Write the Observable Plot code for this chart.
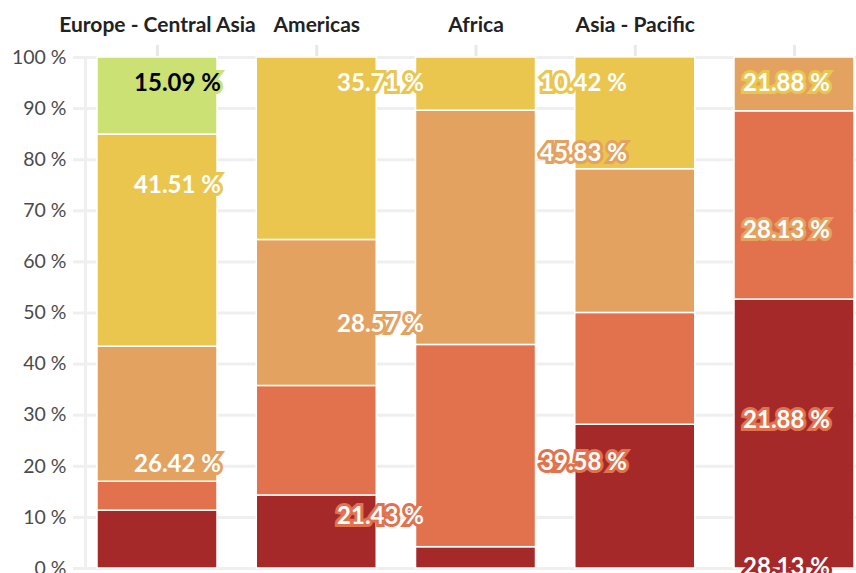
<!DOCTYPE html>
<html>
<head>
<meta charset="utf-8">
<script src="https://cdn.jsdelivr.net/npm/d3@7"></script>
<script src="https://cdn.jsdelivr.net/npm/@observablehq/plot@0.6"></script>
<style>
  html, body { margin: 0; padding: 0; background: white; overflow: hidden; }
  #wrap { position: relative; width: 856px; height: 600px; }
  #wrap svg { max-width: none !important; }
  #labels { position: absolute; left: 0; top: 0; pointer-events: none; }
</style>
</head>
<body>
<div id="wrap"><div id="bars"></div><div id="labels"></div></div>
<script>
// Categories (regions) along x
const regions = ["Europe - Central Asia", "Americas", "Africa", "Asia - Pacific", ""];
// Stack levels from bottom to top
const levels = ["Level 1", "Level 2", "Level 3", "Level 4", "Level 5"];
// Percent share of each level per region
const level1 = [11.32, 14.29, 4.17, 28.13, 52.63];
const level2 = [5.66, 21.43, 39.58, 21.88, 36.84];
const level3 = [26.42, 28.57, 45.83, 28.13, 10.53];
const level4 = [41.51, 35.71, 10.42, 21.88, 0];
const level5 = [15.09, 0, 0, 0, 0];
// y tick values
const yTicks = [0, 10, 20, 30, 40, 50, 60, 70, 80, 90, 100];

const colors = ["#a6292a", "#e2724e", "#e3a25f", "#ebc64e", "#cbe174"];
const series = [level1, level2, level3, level4, level5];

const rows = [];
series.forEach((vals, i) => {
  vals.forEach((v, j) => {
    if (v > 0) rows.push({region: regions[j], level: levels[i], value: v});
  });
});

const bars = Plot.plot({
  width: 856,
  height: 600,
  marginTop: 57,
  marginBottom: 32,
  marginLeft: 85,
  marginRight: 0,
  style: {fontFamily: "Lato, 'Open Sans', sans-serif", background: "white", overflow: "visible"},
  x: {domain: regions, paddingInner: 0.2465, paddingOuter: 0.044, align: 0.857, round: false, label: null},
  y: {domain: [0, 100], label: null},
  color: {domain: levels, range: colors},
  marks: [
    Plot.gridY(yTicks, {stroke: "#efefef", strokeOpacity: 1, strokeWidth: 3}),
    Plot.frame({anchor: "left", stroke: "#efefef", strokeOpacity: 1, strokeWidth: 3}),
    Plot.axisY(yTicks, {
      tickFormat: d => d + " %", tickSize: 12, tickPadding: 7,
      stroke: "#efefef", strokeWidth: 3, fill: "#4a4a4a", fontSize: 19.5, label: null
    }),
    Plot.axisX({
      anchor: "top", tickSize: 13, tickPadding: 13,
      stroke: "#e8e8e8", strokeWidth: 3, fill: "#222", fontSize: 21, fontWeight: "bold", label: null
    }),
    Plot.barY(rows, Plot.stackY({
      x: "region", y: "value", z: "level", fill: "level",
      stroke: "white", strokeWidth: 1.5
    }))
  ]
});
document.getElementById("bars").appendChild(bars);

// Label layer (value labels placed with their own, wider scales as in the reference)
const labels = Plot.plot({
  width: 856,
  height: 600,
  margin: 0,
  style: {fontFamily: "Lato, 'Open Sans', sans-serif", background: "transparent", overflow: "visible"},
  x: {type: "point", domain: regions, range: [176.5, 988.5], padding: 0, axis: null},
  y: {domain: [0, 100], range: [756, 83], axis: null},
  color: {domain: [...levels, "dark", "light"], range: [...colors, "#000", "#fff"]},
  marks: [
    Plot.text(rows, Plot.stackY2({
      x: "region", y: "value", z: "level",
      text: d => d.value.toFixed(2) + " %",
      fill: d => d.level === "Level 5" ? "dark" : "light",
      stroke: "level",
      strokeWidth: 6,
      strokeLinejoin: "miter",
      strokeMiterlimit: 2.5,
      paintOrder: "stroke",
      fontSize: 24,
      fontWeight: "bold",
      lineAnchor: "middle",
      textAnchor: "middle"
    }))
  ]
});
document.getElementById("labels").appendChild(labels);
</script>
</body>
</html>
